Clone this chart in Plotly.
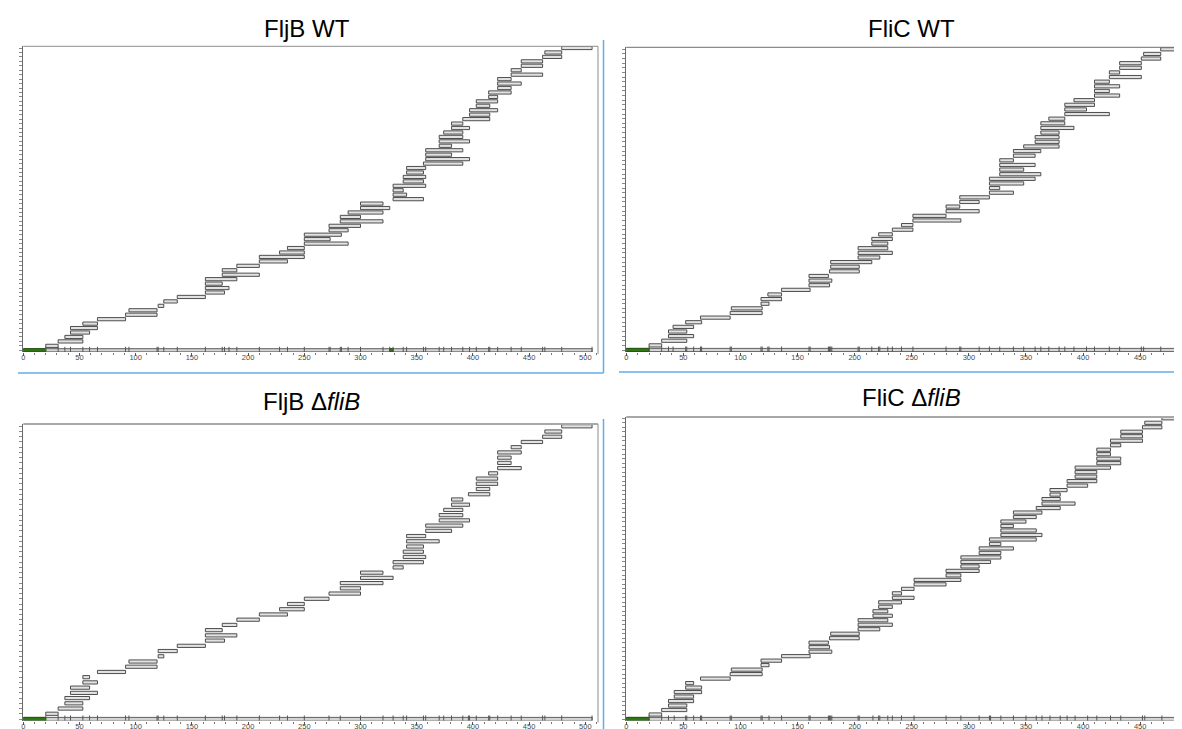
import plotly.graph_objects as go

# ---------------- data (peptide start / end residues, bottom row first) ----------------
fljb_wt_start = [20, 31, 37, 42, 42, 53, 66, 91, 94, 120,
                 125, 137, 162, 162, 162, 162, 177, 177, 190, 210,
                 210, 228, 235, 250, 250, 250, 272, 272, 282, 282,
                 289, 300, 300, 329, 329, 329, 329, 338, 338, 341,
                 341, 356, 358, 358, 358, 370, 370, 370, 374, 381,
                 381, 391, 397, 397, 403, 403, 414, 414, 422, 422,
                 422, 434, 434, 443, 443, 462, 464, 479]
fljb_wt_end = [31, 53, 53, 59, 66, 66, 91, 119, 119, 125,
               137, 162, 179, 183, 177, 190, 210, 190, 210, 235,
               250, 250, 250, 289, 273, 283, 289, 300, 320, 300,
               320, 326, 320, 356, 341, 338, 358, 356, 358, 356,
               358, 391, 397, 381, 391, 381, 397, 391, 391, 397,
               391, 415, 415, 422, 415, 422, 422, 434, 434, 443,
               434, 462, 443, 462, 462, 479, 479, 506]

flic_wt_start = [20, 31, 37, 37, 41, 52, 65, 91, 92, 118,
                 118, 124, 136, 160, 160, 160, 178, 179, 179, 203,
                 203, 203, 215, 215, 221, 233, 241, 251, 251, 280,
                 280, 292, 292, 318, 318, 318, 318, 327, 327, 327,
                 327, 339, 339, 348, 358, 358, 363, 363, 363, 370,
                 384, 384, 384, 392, 410, 410, 410, 410, 423, 423,
                 432, 432, 451, 453, 468]
flic_wt_end = [31, 53, 59, 53, 59, 66, 91, 119, 119, 125,
               136, 136, 161, 178, 180, 177, 204, 204, 215, 222,
               233, 229, 229, 233, 233, 251, 251, 293, 280, 309,
               292, 309, 318, 339, 327, 348, 358, 363, 348, 358,
               339, 358, 363, 379, 379, 379, 379, 392, 384, 384,
               423, 403, 410, 410, 432, 423, 432, 423, 451, 432,
               451, 451, 468, 468, 495]

fljb_dflib_start = [20, 31, 37, 37, 42, 42, 53, 53, 66, 91,
                    94, 120, 120, 137, 162, 162, 162, 177, 190, 210,
                    228, 235, 250, 272, 282, 282, 300, 300, 329, 329,
                    338, 338, 341, 341, 341, 358, 358, 370, 370, 374,
                    381, 381, 396, 403, 403, 403, 414, 422, 422, 422,
                    422, 434, 443, 462, 464, 479]
fljb_dflib_end = [31, 53, 53, 59, 66, 59, 66, 59, 91, 119,
                  119, 125, 137, 162, 179, 190, 177, 190, 210, 235,
                  250, 250, 272, 300, 300, 320, 329, 320, 338, 356,
                  358, 356, 356, 370, 358, 381, 391, 397, 391, 391,
                  397, 391, 415, 415, 422, 422, 422, 443, 434, 434,
                  443, 443, 462, 479, 479, 506]

flic_dflib_start = [20, 31, 37, 37, 42, 42, 52, 52, 65, 91,
                    92, 118, 118, 136, 160, 160, 160, 178, 179, 203,
                    203, 203, 216, 216, 221, 221, 233, 233, 241, 252,
                    252, 280, 280, 293, 293, 293, 309, 309, 318, 318,
                    328, 328, 328, 328, 339, 339, 359, 364, 364, 371,
                    371, 386, 386, 393, 393, 393, 412, 412, 412, 412,
                    424, 424, 433, 433, 452, 454, 469]
flic_dflib_end = [31, 53, 53, 59, 59, 66, 66, 59, 91, 119,
                  119, 125, 136, 161, 180, 178, 177, 204, 204, 222,
                  233, 229, 233, 229, 233, 241, 252, 241, 252, 280,
                  293, 293, 309, 309, 319, 328, 328, 339, 328, 359,
                  364, 359, 339, 350, 359, 364, 380, 393, 380, 380,
                  386, 404, 412, 412, 412, 424, 433, 433, 424, 424,
                  433, 452, 452, 452, 469, 469, 495]

fljb_length = 506
flic_length = 495
fljb_wt_gaps = [(0, 20), (326, 329)]
fljb_dflib_gaps = [(0, 20)]
flic_wt_gaps = [(0, 20)]
flic_dflib_gaps = [(0, 20)]

titles = ["FljB WT", "FliC WT", "FljB \u0394<i>fliB</i>", "FliC \u0394<i>fliB</i>"]
x_tick_values = [0, 50, 100, 150, 200, 250, 300, 350, 400, 450, 500]

# ---------------- layout geometry (pixels) ----------------
W, H = 1182, 729
panels = [
    dict(starts=fljb_wt_start, ends=fljb_wt_end, length=fljb_length, gaps=fljb_wt_gaps,
         x0=13.3, ppu=1.126, xr=589, top=38.3, bottom=344.0, row0=342.3, rowN=40.0,
         tx=298, ty=21, right=True, topw=1, topc="#8c8c8c"),
    dict(starts=flic_wt_start, ends=flic_wt_end, length=flic_length, gaps=flic_wt_gaps,
         x0=617.3, ppu=1.144, xr=1182, top=39.3, bottom=344.0, row0=342.0, rowN=41.3,
         tx=903, ty=21, right=False, topw=1, topc="#6e6e6e"),
    dict(starts=fljb_dflib_start, ends=fljb_dflib_end, length=fljb_length, gaps=fljb_dflib_gaps,
         x0=13.3, ppu=1.126, xr=589, top=416.0, bottom=712.5, row0=711.0, rowN=418.3,
         tx=302, ty=394, right=True, topw=2, topc="#a8a8a8"),
    dict(starts=flic_dflib_start, ends=flic_dflib_end, length=flic_length, gaps=flic_dflib_gaps,
         x0=617.3, ppu=1.144, xr=1182, top=409.0, bottom=712.5, row0=711.0, rowN=410.3,
         tx=903, ty=389, right=False, topw=2, topc="#a8a8a8"),
]

fig = go.Figure()
shapes = []
annotations = []
layout_axes = {}


def px(x):
    return x / W


def py(y):
    return 1 - y / H


for i, p in enumerate(panels):
    k = "" if i == 0 else str(i + 1)
    xa, ya = "x" + k, "y" + k
    n = len(p["starts"])
    s = (p["row0"] - p["rowN"]) / n
    rows = list(range(1, n + 1))
    bw = 3.2 / s

    # peptides
    fig.add_trace(go.Bar(
        orientation="h", y=rows,
        x=[e - b for b, e in zip(p["starts"], p["ends"])], base=p["starts"],
        width=bw, marker=dict(color="#e2e2e2", line=dict(color="#3c3c3c", width=0.9)),
        xaxis=xa, yaxis=ya, hoverinfo="skip"))
    # protein bar
    fig.add_trace(go.Bar(
        orientation="h", y=[0], x=[p["length"]], base=[0], width=bw,
        marker=dict(color="#d4d4d4", line=dict(color="#505050", width=0.9)),
        xaxis=xa, yaxis=ya, hoverinfo="skip"))
    # uncovered regions
    fig.add_trace(go.Bar(
        orientation="h", y=[0] * len(p["gaps"]), x=[b - a for a, b in p["gaps"]],
        base=[a for a, b in p["gaps"]], width=bw,
        marker=dict(color="#2f7a0f", line=dict(color="#1f4f0a", width=0.9)),
        xaxis=xa, yaxis=ya, hoverinfo="skip"))
    # peptide boundary marks on protein bar
    bounds = sorted(set(p["starts"]) | set(p["ends"]))
    fig.add_trace(go.Scatter(
        x=bounds, y=[0] * len(bounds), mode="markers",
        marker=dict(symbol="line-ns", size=5, line=dict(color="#555555", width=1)),
        xaxis=xa, yaxis=ya, hoverinfo="skip"))

    xmax = (p["xr"] - p["x0"]) / p["ppu"]
    layout_axes["xaxis" + k] = dict(
        domain=[px(p["x0"]), px(p["xr"])], range=[0, xmax], anchor=ya,
        tickmode="array", tickvals=x_tick_values, ticks="outside", ticklen=3,
        tickcolor="#555555", tickwidth=1, ticklabelstandoff=-5,
        minor=dict(dtick=10, tick0=0, ticks="outside", ticklen=2, tickcolor="#777777"),
        tickfont=dict(size=7.5, color="#4a4a4a", family="Liberation Sans"),
        showgrid=False, zeroline=False, showline=False, fixedrange=True)
    layout_axes["yaxis" + k] = dict(
        domain=[py(p["bottom"]), py(p["top"])],
        range=[(p["row0"] - p["bottom"]) / s, (p["row0"] - p["top"]) / s], anchor=xa,
        tickmode="linear", tick0=0, dtick=1, ticks="outside", ticklen=3,
        tickcolor="#8a8a8a", showticklabels=False, showgrid=False, zeroline=False,
        showline=True, linecolor="#6a6a6a", linewidth=1, fixedrange=True)

    # frame: top line and (optionally) right line
    shapes.append(dict(type="line", xref="paper", yref="paper",
                       x0=px(p["x0"]), x1=px(p["xr"]), y0=py(p["top"]), y1=py(p["top"]),
                       line=dict(color=p["topc"], width=p["topw"])))
    if p["right"]:
        shapes.append(dict(type="line", xref="paper", yref="paper",
                           x0=px(p["xr"]), x1=px(p["xr"]), y0=py(p["top"]), y1=py(p["bottom"] + 2),
                           line=dict(color="#8c8c8c", width=1)))

    annotations.append(dict(text=titles[i], xref="paper", yref="paper",
                            x=px(p["tx"]), y=py(p["ty"]), xanchor="center", yanchor="middle",
                            showarrow=False,
                            font=dict(family="Liberation Sans, Arial", size=24, color="#000000")))

# light blue screenshot separator lines
blue = "#62aee8"
shapes += [
    dict(type="line", xref="paper", yref="paper", x0=px(594.5), x1=px(594.5),
         y0=py(32), y1=py(365), line=dict(color=blue, width=1.5)),
    dict(type="line", xref="paper", yref="paper", x0=px(8), x1=px(594.5),
         y0=py(365), y1=py(365), line=dict(color=blue, width=1.5)),
    dict(type="line", xref="paper", yref="paper", x0=px(610), x1=px(1182),
         y0=py(364), y1=py(364), line=dict(color=blue, width=1.5)),
    dict(type="line", xref="paper", yref="paper", x0=px(594.5), x1=px(594.5),
         y0=py(411), y1=py(729), line=dict(color=blue, width=1.5)),
]

fig.update_layout(
    width=W, height=H, margin=dict(l=0, r=0, t=0, b=0),
    paper_bgcolor="white", plot_bgcolor="white", showlegend=False,
    barmode="overlay", shapes=shapes, annotations=annotations, **layout_axes)

fig.write_html("out.html")
